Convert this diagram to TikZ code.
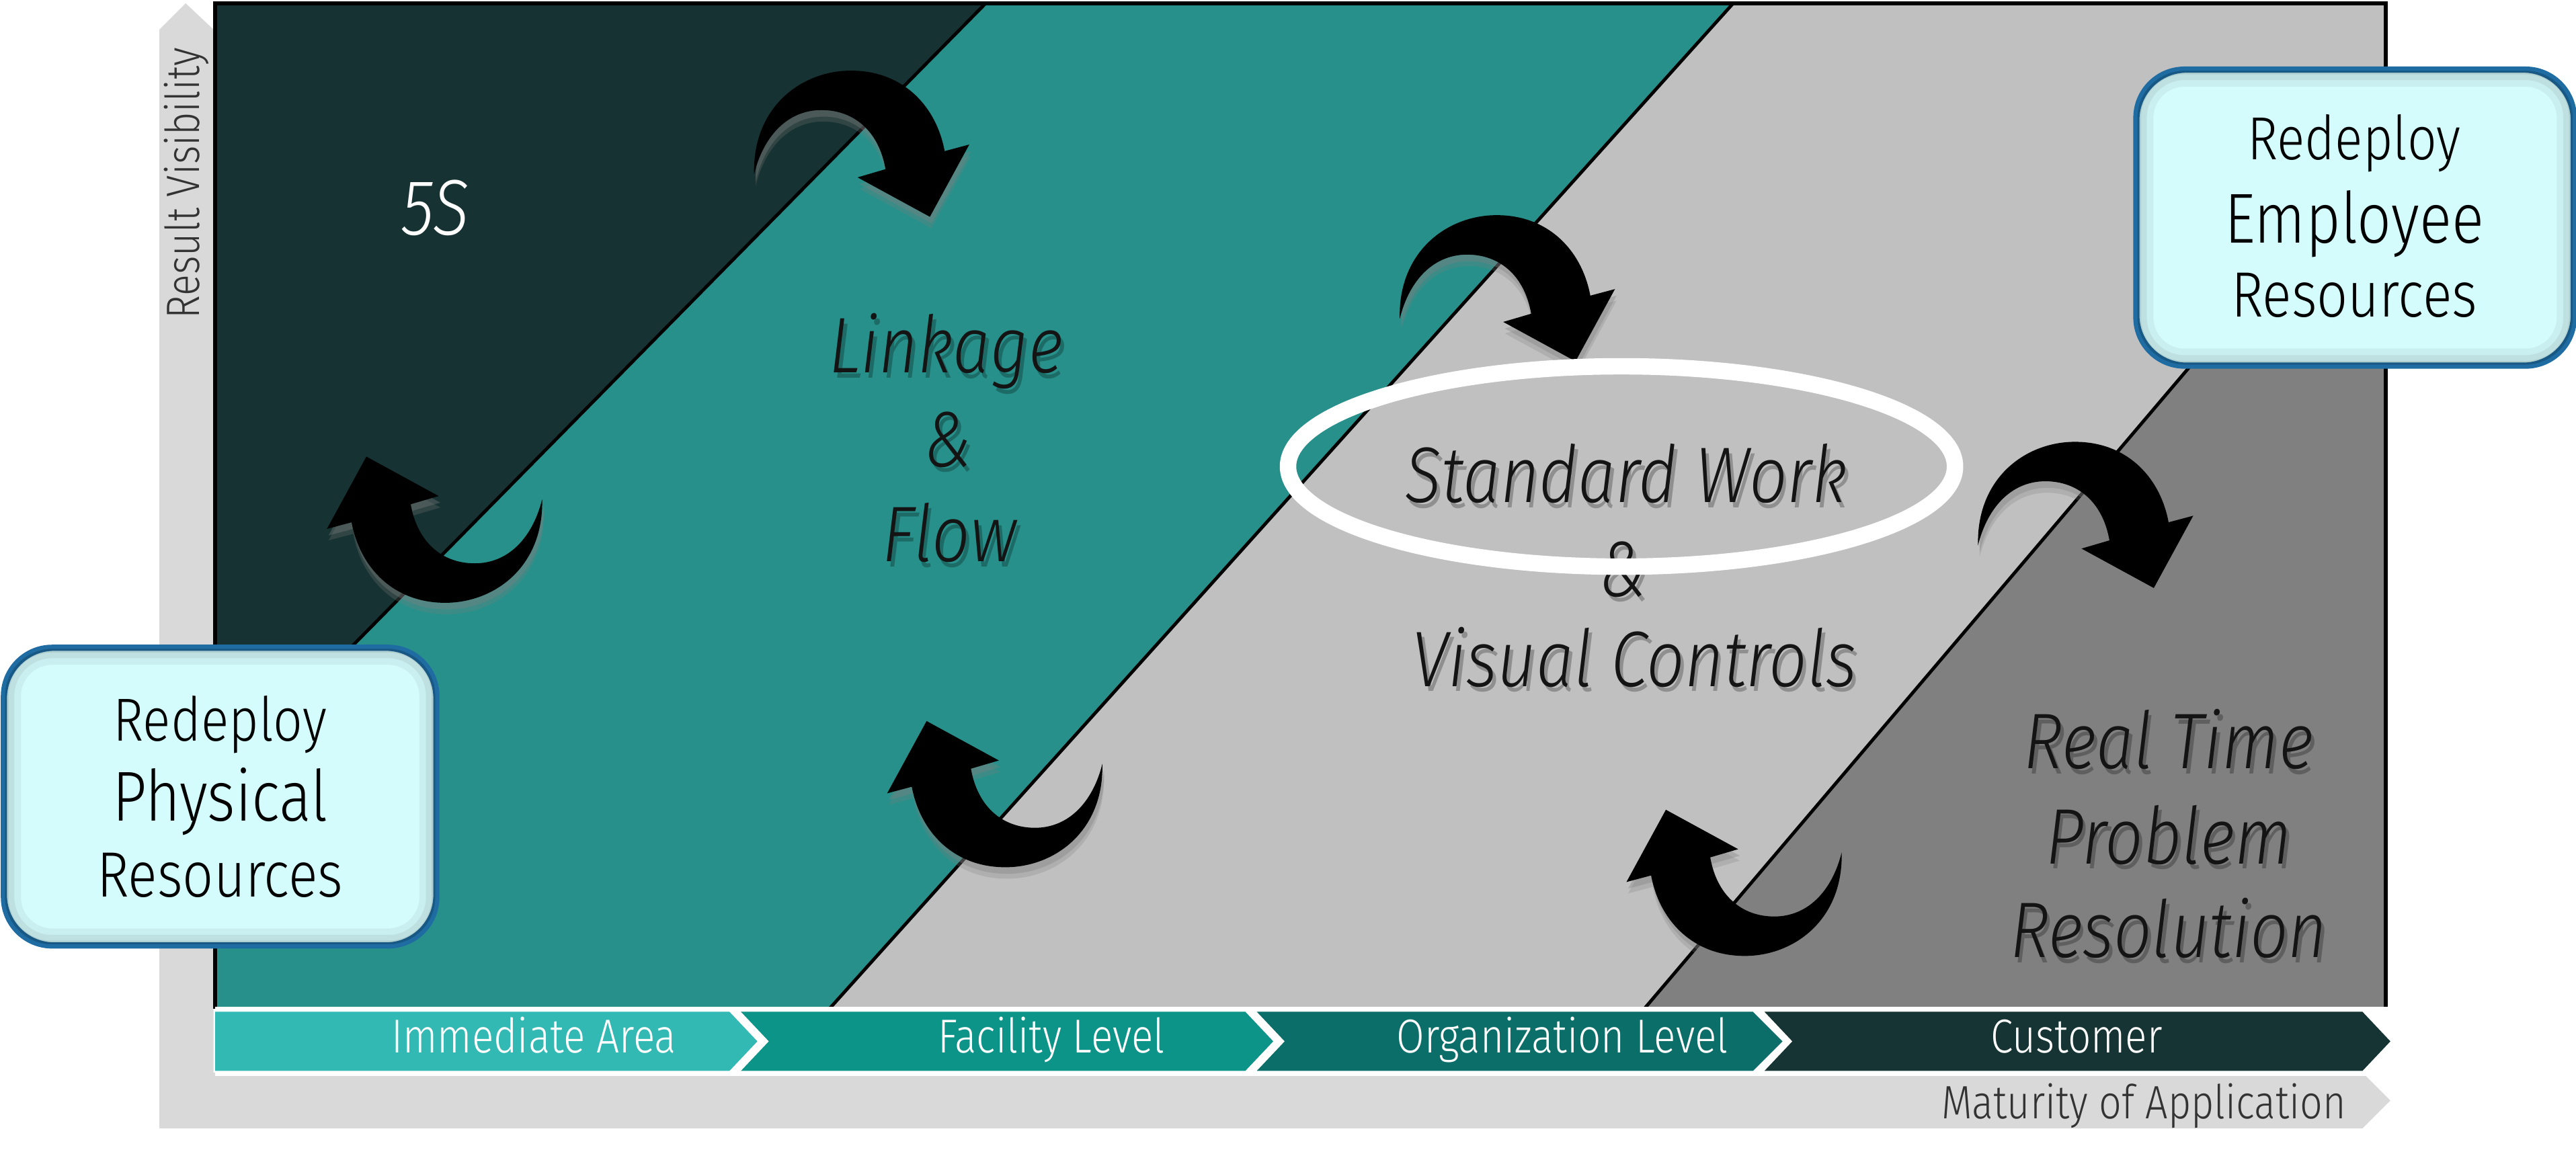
\documentclass[tikz,border=0pt]{standalone}
\usepackage{fontspec}
\setmainfont{Fira Sans Light}[ItalicFont={Fira Sans Light Italic}, FakeStretch=0.85]
\usetikzlibrary{shapes.geometric}
\definecolor{cDark}{HTML}{173232}
\definecolor{cTeal}{HTML}{27908A}
\definecolor{cLight}{HTML}{C0C0C0}
\definecolor{cMid}{HTML}{808080}
\definecolor{cAxis}{HTML}{D9D9D9}
\definecolor{chA}{HTML}{33B9B3}
\definecolor{chB}{HTML}{0D9489}
\definecolor{chC}{HTML}{0B6E68}
\definecolor{chD}{HTML}{163433}
\definecolor{boxFill}{HTML}{D5FCFD}
\definecolor{boxLine}{HTML}{1F6CA3}
\newcommand\fsz[1]{\fontsize{#1}{#1}\selectfont}
\begin{document}
\begin{tikzpicture}[x=1pt,y=-1pt,
  ashape/.style={insert path={(-59,63) .. controls (-60,22) and (-30,0) .. (0,0)
      .. controls (32,0) and (52,22) .. (57,49) -- (72,45) -- (48,89) -- (4,65) -- (21,60)
      .. controls (17,37) and (2,24) .. (-18,24) .. controls (-38,24) and (-53,39) .. (-59,63) -- cycle}},
  itxt/.style={font=\fsz{48}\itshape, text=black!92, inner sep=0, anchor=base},
  itshadow/.style={font=\fsz{48}\itshape, text=black, text opacity=.25, inner sep=0, anchor=base},
  chtxt/.style={font=\fsz{29}, text=white, inner sep=0, anchor=base},
  boxtxt/.style={font=\fsz{37}, text=black, inner sep=0, anchor=base},
  boxbig/.style={font=\fsz{43}, text=black, inner sep=0, anchor=base},
  axtxt/.style={font=\fsz{28.5}, text=black!80, inner sep=0, anchor=base},
  resbox/.style={draw=boxLine, line width=2.5, fill=boxFill, rounded corners=30, inner sep=0},
  diag/.style={line width=2, black}
]
\useasboundingbox (0,0) rectangle (1568,706);
% axes
\fill[cAxis] (97,18) -- (113,2) -- (130,18) -- (130,653) -- (1438,653) -- (1455,670) -- (1438,687) -- (97,687) -- cycle;
% regions
\fill[cDark] (131,2) -- (600,2) -- (131,478) -- cycle;
\fill[cTeal] (600,2) -- (1055,2) -- (505,614) -- (131,614) -- (131,478) -- cycle;
\fill[cLight] (1055,2) -- (1452,2) -- (1452,83) -- (1001,614) -- (505,614) -- cycle;
\fill[cMid] (1452,83) -- (1452,614) -- (1001,614) -- cycle;
\draw[diag] (600,2) -- (131,478);
\draw[diag] (1055,2) -- (505,614);
\draw[diag] (1452,83) -- (1001,614);
\draw[line width=2.5] (131,614) -- (131,2) -- (1452,2) -- (1452,616);
% chevron band
\fill[white] (131,613) rectangle (1460,655);
\fill[chA] (131,616) -- (444,616) -- (461,634) -- (444,652) -- (131,652) -- cycle;
\fill[chB] (451,616) -- (758,616) -- (775,634) -- (758,652) -- (451,652) -- (468,634) -- cycle;
\fill[chC] (765,616) -- (1067,616) -- (1085,634) -- (1067,652) -- (765,652) -- (782,634) -- cycle;
\fill[chD] (1074,616) -- (1438,616) -- (1455,634) -- (1438,652) -- (1074,652) -- (1091,634) -- cycle;
\node[chtxt] (c1) at (325,641) {Immediate Area};
\node[chtxt] (c2) at (640,641) {Facility Level};
\node[chtxt] (c3) at (951,641) {Organization Level};
\node[chtxt] (c4) at (1264,641) {Customer};
\node[axtxt] (mat) at (1305,681) {Maturity of Application};
\node[axtxt, rotate=90] (res) at (121.5,111.5) {Result Visibility};
% curved arrows
\foreach \px/\py/\r in {518/43/0, 911/131/0, 1263/269/0, 271/367/180, 612/528/180, 1062/582/180} {
  \fill[black!50, opacity=.25, shift={(\px+1,\py+7)}, rotate=\r] (0,0) [ashape];
  \fill[black!50, opacity=.35, shift={(\px+1,\py+4)}, rotate=\r] (0,0) [ashape];
  \fill[black, shift={(\px,\py)}, rotate=\r] (0,0) [ashape];
}
% text shadows
\foreach \tx/\ty/\tt in {578/230/Linkage, 579/287/\&, 580/345/Flow, 992/309/Standard Work, 990/366/\&, 997/421/Visual Controls, 1322/471/Real Time, 1322/529/Problem, 1322/586/Resolution}
  \node[itshadow] at (\tx,\ty) {\tt};
% texts
\node[itxt, text=white] (fives) at (265,143) {5S};
\node[itxt] (lk1) at (576,227) {Linkage};
\node[itxt] (lk2) at (577,284) {\&};
\node[itxt] (lk3) at (578,342) {Flow};
\node[itxt] (sw1) at (990,306) {Standard Work};
\node[itxt] (sw2) at (988,363) {\&};
\node[itxt] (sw3) at (995,418) {Visual Controls};
\node[itxt] (rt1) at (1320,468) {Real Time};
\node[itxt] (rt2) at (1320,526) {Problem};
\node[itxt] (rt3) at (1320,583) {Resolution};
\node[draw=white, line width=10, ellipse, minimum width=406, minimum height=122, inner sep=0] (ring) at (987,284) {};
% boxes
\node[resbox, minimum width=262, minimum height=180] (phys) at (134,485) {};
\node[resbox, minimum width=265, minimum height=179] (empl) at (1433.5,132.5) {};
\foreach \b in {phys, empl} {
  \begin{scope}
    \clip[rounded corners=29] ([shift={(1,-1)}]\b.south west) rectangle ([shift={(-1,1)}]\b.north east);
    \draw[rounded corners=30, line width=22, black, opacity=.05] (\b.south west) rectangle (\b.north east);
    \draw[rounded corners=30, line width=14, black, opacity=.06] (\b.south west) rectangle (\b.north east);
    \draw[rounded corners=30, line width=7, black, opacity=.08] (\b.south west) rectangle (\b.north east);
  \end{scope}
  \draw[boxLine, line width=2.5, rounded corners=30] (\b.south west) rectangle (\b.north east);
}
\node[boxtxt] (p1) at (134,451) {Redeploy};
\node[boxbig] (p2) at (134,500) {Physical};
\node[boxtxt, font=\fsz{39}] (p3) at (134,546) {Resources};
\node[boxtxt] (e1) at (1433,97) {Redeploy};
\node[boxbig] (e2) at (1433,148) {Employee};
\node[boxtxt, font=\fsz{39}] (e3) at (1433,193) {Resources};
\end{tikzpicture}
\end{document}
